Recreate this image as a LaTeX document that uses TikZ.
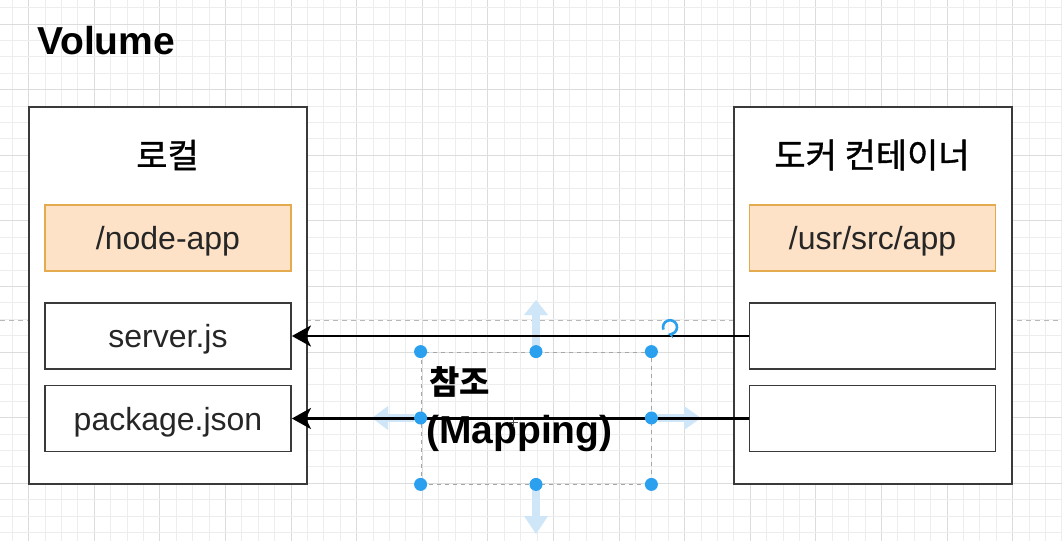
\documentclass[tikz,border=0pt]{standalone}
\usepackage{fontspec}
\setmainfont{Liberation Sans}
\newfontfamily\kr[FakeBold=1]{Noto Sans CJK KR}
\newfontfamily\krb{Noto Sans CJK KR}
\usetikzlibrary{arrows.meta}
\definecolor{gridminor}{HTML}{EDEDED}
\definecolor{gridmajor}{HTML}{DCDCDC}
\definecolor{peachfill}{HTML}{FDE2C7}
\definecolor{peachdraw}{HTML}{E4AA4E}
\definecolor{handle}{HTML}{2AA0EE}
\definecolor{hoverblue}{HTML}{CFE6F8}
\definecolor{boxline}{HTML}{3A3A3A}
\tikzset{
  x=1pt, y=-1pt,
  minorline/.style={gridminor, line width=0.9pt},
  majorline/.style={gridmajor, line width=1.1pt},
  outerbox/.style={draw=boxline, line width=1.8pt, fill=white, minimum width=278pt, minimum height=377pt, inner sep=0pt},
  folderbox/.style={draw=peachdraw, line width=1.8pt, fill=peachfill, minimum width=246pt, minimum height=66pt, inner sep=0pt, font=\fontsize{32}{38}\selectfont, text=black!85, text height=22pt, text depth=0pt},
  filebox/.style={draw=boxline, line width=1.8pt, fill=white, minimum width=246pt, minimum height=66pt, inner sep=0pt, font=\fontsize{32}{38}\selectfont, text=black!85, text height=23pt, text depth=0pt},
  titletext/.style={font=\kr\fontsize{34}{40}\selectfont, inner sep=0pt},
  maparrow/.style={line width=2.8pt, -{Stealth[length=19pt, width=21pt, inset=5pt]}},
  handledot/.style={fill=handle, draw=none, circle, minimum size=13pt, inner sep=0pt},
  hover/.style={fill=hoverblue, draw=none},
  guide/.style={draw=black!28, dashed, dash pattern=on 5pt off 4pt, line width=0.9pt},
  selbox/.style={draw=black!35, dashed, dash pattern=on 4pt off 4pt, line width=0.8pt}
}
\begin{document}
\begin{tikzpicture}
\useasboundingbox[fill=white] (0,0) rectangle (1062,541);
% grid
\foreach \i in {-1,...,64} {
  \pgfmathtruncatemacro{\m}{mod(\i+4,4)}
  \ifnum\m=0
    \draw[majorline] ({28.7+16.4*\i},0) -- ({28.7+16.4*\i},541);
  \else
    \draw[minorline] ({28.7+16.4*\i},0) -- ({28.7+16.4*\i},541);
  \fi
}
\foreach \i in {-1,...,33} {
  \pgfmathtruncatemacro{\m}{mod(\i+4,4)}
  \ifnum\m=0
    \draw[majorline] (0,{24.1+16.4*\i}) -- (1062,{24.1+16.4*\i});
  \else
    \draw[minorline] (0,{24.1+16.4*\i}) -- (1062,{24.1+16.4*\i});
  \fi
}
% guide line
\coordinate (gl) at (0,320);
\coordinate (gr) at (1062,320);
\draw[guide] (gl) -- (gr);

% title
\node[anchor=base west, inner sep=0pt, font=\bfseries\fontsize{39}{46}\selectfont] (title) at (37,54) {Volume};

% left container
\node[outerbox] (local) at (168,295.5) {};
\node[titletext] (localtitle) at (167.5,155) {로컬};
\node[folderbox] (nodeapp) at (168,238) {/node-app};
\node[filebox] (serverjs) at (168,336) {server.js};
\node[filebox] (packagejson) at (168,418.5) {package.json};

% right container
\node[outerbox] (docker) at (873,295.5) {};
\node[titletext] (dockertitle) at (872,155) {도커 컨테이너};
\node[folderbox] (usrsrc) at (872.5,238) {/usr/src/app};
\node[filebox] (rfile1) at (872.5,336) {};
\node[filebox] (rfile2) at (872.5,418.5) {};

% hover arrows
\fill[hover] (532,315) rectangle (540,346);
\fill[hover] (524,315) -- (548,315) -- (536,300) -- cycle;
\fill[hover] (532,490) rectangle (540,516);
\fill[hover] (524,516) -- (548,516) -- (536,534) -- cycle;
\fill[hover] (388,414) rectangle (414,422);
\fill[hover] (388,406) -- (388,430) -- (372,418) -- cycle;
\fill[hover] (658,414) rectangle (684,422);
\fill[hover] (684,406) -- (684,430) -- (701,418) -- cycle;

% mapping arrows
\draw[maparrow] (rfile1.west) -- (serverjs.east);
\draw[maparrow] (rfile2.west) -- (packagejson.east);

% selection box
\node[selbox, minimum width=230pt, minimum height=132pt, inner sep=0pt] (sel) at (536,418) {};
\node[anchor=west, inner sep=0pt, font=\krb\bfseries\fontsize{33}{40}\selectfont] (maplabel1) at (429,382) {참조};
\node[anchor=base west, inner sep=0pt, font=\bfseries\fontsize{39}{46}\selectfont] (maplabel2) at (426,443) {(Mapping)};

% handles
\foreach \p in {north west, north, north east, west, east, south west, south, south east}
  \node[handledot] at (sel.\p) {};

% rotate icon
\coordinate (rot) at (670,332);
\draw[handle, line width=2.6pt, -{Stealth[length=5pt, width=7pt]}] ([shift={(200:7)}]rot) arc[start angle=200, end angle=-100, radius=7pt];

% move cursor
\coordinate (cur) at (513,422);
\draw[black!70, line width=1pt] ([xshift=-5pt]cur) -- ([xshift=5pt]cur) ([yshift=-5pt]cur) -- ([yshift=5pt]cur);
\end{tikzpicture}
\end{document}
